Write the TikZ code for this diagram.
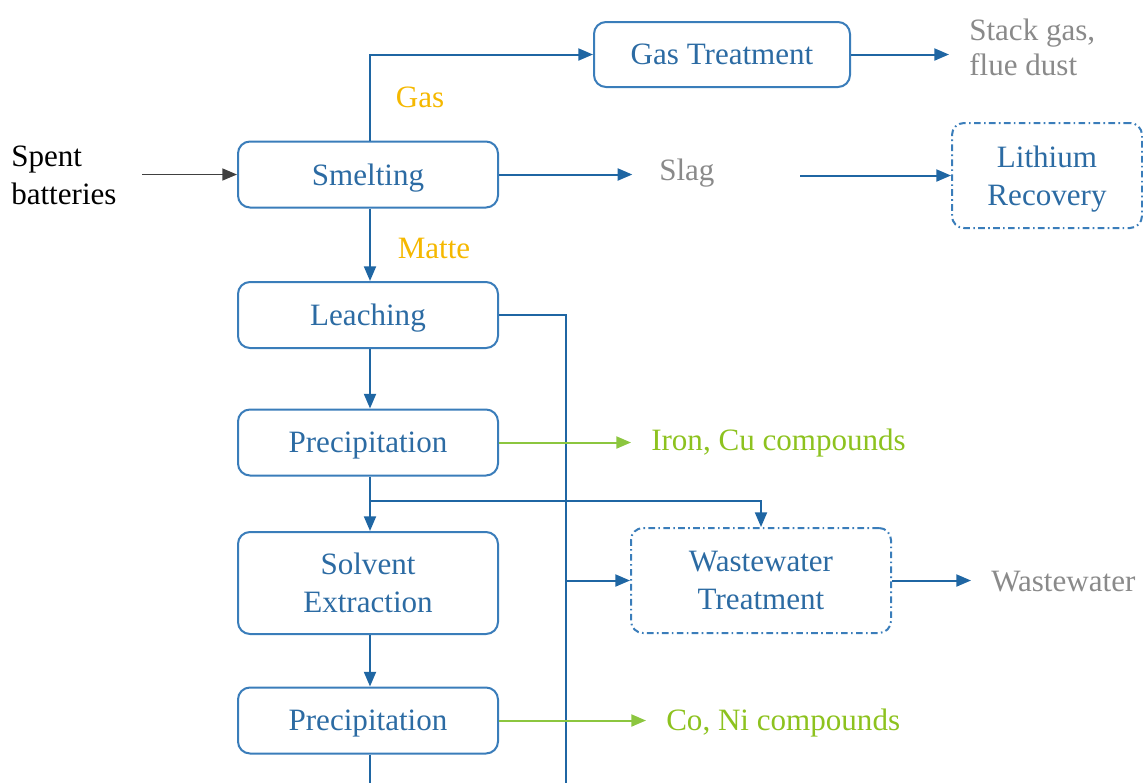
\documentclass[tikz,border=0pt]{standalone}
\usepackage{fontspec}
\setmainfont{Liberation Serif}
\usetikzlibrary{arrows.meta}
\definecolor{boxblue}{HTML}{3A7DBA}
\definecolor{txtblue}{HTML}{2C6BA3}
\definecolor{lineblue}{HTML}{1F66A3}
\definecolor{grn}{HTML}{8CC63F}
\definecolor{grntxt}{HTML}{8DC21F}
\definecolor{orng}{HTML}{F5B800}
\definecolor{gtxt}{HTML}{8A8A8A}
\definecolor{darkarrow}{HTML}{404040}
\tikzset{
  base/.style={font=\fontsize{23.3pt}{28.5pt}\selectfont, inner sep=0pt, text depth=0pt},
  procbox/.style={base, draw=boxblue, line width=1.5pt, rounded corners=9pt,
    text=txtblue, align=center, minimum width=195pt, minimum height=49.5pt},
  optbox/.style={procbox, dash pattern=on 5pt off 2.5pt on 1.2pt off 2.5pt},
  outtxt/.style={base, text=gtxt, align=left, anchor=west},
  prodtxt/.style={base, text=grntxt, anchor=west},
  flowlbl/.style={base, text=orng},
  flow/.style={draw=lineblue, line width=1.5pt, -{Triangle[length=11pt,width=9pt]}},
  flowline/.style={draw=lineblue, line width=1.5pt},
  prodflow/.style={draw=grn, line width=1.5pt, -{Triangle[length=11pt,width=9pt]}},
  inflow/.style={draw=darkarrow, line width=1.2pt, -{Triangle[length=11pt,width=9pt]}}
}
\begin{document}
\begin{tikzpicture}[x=0.75pt, y=-0.75pt]
\useasboundingbox (0,0) rectangle (1143,783);
% process boxes
\node[procbox, minimum width=192pt, minimum height=48.75pt] (gt) at (722,54.5) {Gas Treatment};
\node[procbox] (smelt) at (368,174.5) {Smelting};
\node[procbox] (leach) at (368,315) {Leaching};
\node[procbox] (p1) at (368,442.5) {Precipitation};
\node[procbox, minimum height=76.5pt] (solv) at (368,583) {Solvent\\Extraction};
\node[procbox] (p2) at (368,720.5) {Precipitation};
\node[optbox, minimum width=142.5pt, minimum height=78.75pt] (li) at (1047,175.5) {Lithium\\Recovery};
\node[optbox, minimum height=78.75pt] (ww) at (761,580.5) {Wastewater\\Treatment};
% texts
\node[base, align=left, anchor=west] (spent) at (11,175) {Spent\\batteries};
\node[outtxt, font=\fontsize{23.3pt}{26pt}\selectfont] (stack) at (969,47) {Stack gas,\\flue dust};
\node[outtxt] (slag) at (659,170) {Slag};
\node[prodtxt] (fe) at (651,440) {Iron, Cu compounds};
\node[prodtxt] (coni) at (666,720) {Co, Ni compounds};
\node[outtxt] (wwout) at (991,581) {Wastewater};
\node[flowlbl] (gaslbl) at (420,97) {Gas};
\node[flowlbl] (mattelbl) at (434,248) {Matte};
% helper coordinates
\coordinate (vbot) at (566,783);
\coordinate (vj) at (566,580.5);
\coordinate (br) at (370,501);
\coordinate (pbot) at (370,783);
% connectors
\draw[inflow, shorten <=19pt] (spent.east |- smelt.west) -- (smelt.west);
\draw[flow] ([xshift=1.5pt]smelt.north) |- (gt.west);
\draw[flow, shorten >=15pt] (gt.east) -- (stack.west |- gt.east);
\draw[flow, shorten >=20pt] (smelt.east) -- (slag.west |- smelt.east);
\draw[flow, shorten <=64pt] (slag.east |- li.west) -- (li.west);
\draw[flow] ([xshift=1.5pt]smelt.south) -- ([xshift=1.5pt]leach.north);
\draw[flowline] (leach.east) -| (vbot);
\draw[flow] ([xshift=1.5pt]leach.south) -- ([xshift=1.5pt]p1.north);
\draw[prodflow, shorten >=15pt] (p1.east) -- (fe.west |- p1.east);
\draw[flow] ([xshift=1.5pt]p1.south) -- ([xshift=1.5pt]solv.north);
\draw[flow] (br) -| (ww.north);
\draw[flow] (vj) -- (ww.west);
\draw[flow, shorten >=15pt] (ww.east) -- (wwout.west |- ww.east);
\draw[flow] ([xshift=1.5pt]solv.south) -- ([xshift=1.5pt]p2.north);
\draw[prodflow, shorten >=15pt] (p2.east) -- (coni.west |- p2.east);
\draw[flowline] ([xshift=1.5pt]p2.south) -- (pbot);
\end{tikzpicture}
\end{document}
